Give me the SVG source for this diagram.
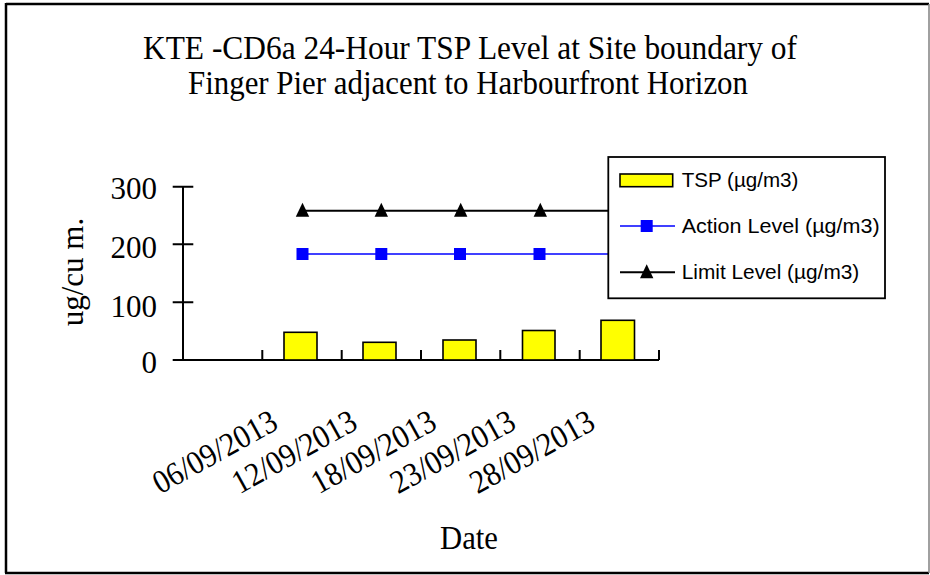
<svg xmlns="http://www.w3.org/2000/svg" width="930" height="575" viewBox="0 0 930 575">
<style>
.serif{font-family:"Liberation Serif","Times New Roman",serif;fill:#000}
.sans{font-family:"Liberation Sans",Arial,sans-serif;fill:#000;font-size:21px}
.bar{fill:#FFFF00;stroke:#000;stroke-width:1.6}
.ax{stroke:#000;stroke-width:2;fill:none}
.lim{stroke:#000;stroke-width:2;fill:none}
.act{stroke:#0000FF;stroke-width:1.6;fill:none}
</style>
<defs>
<rect id="sq" x="-6" y="-6" width="12" height="12" fill="#0000FF"/>
<polygon id="tri" points="0,-8 6.7,6 -6.7,6" fill="#000"/>
</defs>
<rect x="0" y="0" width="930" height="575" fill="#fff"/>
<g id="frame">
<line x1="6" y1="4" x2="929" y2="4" stroke="#000" stroke-width="2.5"/>
<line x1="6" y1="3" x2="6" y2="573" stroke="#000" stroke-width="2.5"/>
<line x1="5" y1="573" x2="929" y2="573" stroke="#000" stroke-width="2.5"/>
<line x1="929" y1="4" x2="929" y2="573" stroke="#808080" stroke-width="1.5"/>
</g>
<g id="title" class="serif" font-size="34" text-anchor="middle">
<text x="470" y="59" textLength="654" lengthAdjust="spacingAndGlyphs">KTE -CD6a 24-Hour TSP Level at Site boundary of</text>
<text x="468" y="94" textLength="560" lengthAdjust="spacingAndGlyphs">Finger Pier adjacent to Harbourfront Horizon</text>
</g>
<g id="axes">
<line class="ax" x1="183" y1="186.7" x2="183" y2="360"/>
<line class="ax" x1="183" y1="360" x2="659" y2="360"/>
<path class="ax" d="M172.7 186.7H193.3M172.7 244.3H193.3M172.7 302.3H193.3M172.7 360H193.3"/>
<path class="ax" d="M262.3 350V360M341.7 350V360M421 350V360M500.3 350V360M579.7 350V360M659 350V360"/>
<g class="serif" font-size="31" text-anchor="end">
<text x="157" y="199">300</text>
<text x="157" y="257.7">200</text>
<text x="157" y="316.7">100</text>
<text x="157" y="373.3">0</text>
</g>
<text class="serif" font-size="31" text-anchor="middle" transform="translate(83,272) rotate(-90)">ug/cu m.</text>
<g class="serif" font-size="33" text-anchor="end">
<text transform="translate(280,428) rotate(-29)" textLength="137" lengthAdjust="spacingAndGlyphs">06/09/2013</text>
<text transform="translate(359.3,428) rotate(-29)" textLength="137" lengthAdjust="spacingAndGlyphs">12/09/2013</text>
<text transform="translate(438.6,428) rotate(-29)" textLength="137" lengthAdjust="spacingAndGlyphs">18/09/2013</text>
<text transform="translate(517.9,428) rotate(-29)" textLength="137" lengthAdjust="spacingAndGlyphs">23/09/2013</text>
<text transform="translate(597.2,428) rotate(-29)" textLength="137" lengthAdjust="spacingAndGlyphs">28/09/2013</text>
</g>
<text class="serif" font-size="34" text-anchor="middle" x="469" y="549" textLength="58" lengthAdjust="spacingAndGlyphs">Date</text>
</g>
<g id="series-tsp">
<rect class="bar" x="284" y="332.3" width="33" height="27.7"/>
<rect class="bar" x="363" y="342.3" width="33" height="17.7"/>
<rect class="bar" x="443" y="340" width="33" height="20"/>
<rect class="bar" x="522.5" y="330.5" width="32.5" height="29.5"/>
<rect class="bar" x="601" y="320.3" width="33.5" height="39.7"/>
</g>
<g id="connectors">
<line class="lim" x1="302" y1="210.7" x2="619.3" y2="210.7"/>
<line class="act" x1="302" y1="254" x2="619.3" y2="254"/>
</g>
<g id="series-limit">
<use href="#tri" x="302.5" y="210.7"/>
<use href="#tri" x="381.3" y="210.7"/>
<use href="#tri" x="460.7" y="210.7"/>
<use href="#tri" x="540.3" y="210.7"/>
<use href="#tri" x="619.3" y="210.7"/>
</g>
<g id="series-action">
<use href="#sq" x="302.5" y="254"/>
<use href="#sq" x="381.3" y="254"/>
<use href="#sq" x="460" y="254"/>
<use href="#sq" x="539.5" y="254"/>
<use href="#sq" x="619.3" y="254"/>
</g>
<g id="legend">
<rect x="608.3" y="157" width="276.7" height="141.3" fill="#fff" stroke="#000" stroke-width="1.8"/>
<rect class="bar" x="620" y="174" width="52.7" height="12.7"/>
<text class="sans" x="681.7" y="187" textLength="116.7" lengthAdjust="spacingAndGlyphs">TSP (µg/m3)</text>
<line class="act" x1="620" y1="226" x2="675" y2="226"/>
<use href="#sq" x="646.7" y="226"/>
<text class="sans" x="681.7" y="233" textLength="198" lengthAdjust="spacingAndGlyphs">Action Level (µg/m3)</text>
<line class="lim" x1="620" y1="272.3" x2="675" y2="272.3"/>
<use href="#tri" x="646.7" y="272.3"/>
<text class="sans" x="681.7" y="279" textLength="177.6" lengthAdjust="spacingAndGlyphs">Limit Level (µg/m3)</text>
</g>
</svg>
